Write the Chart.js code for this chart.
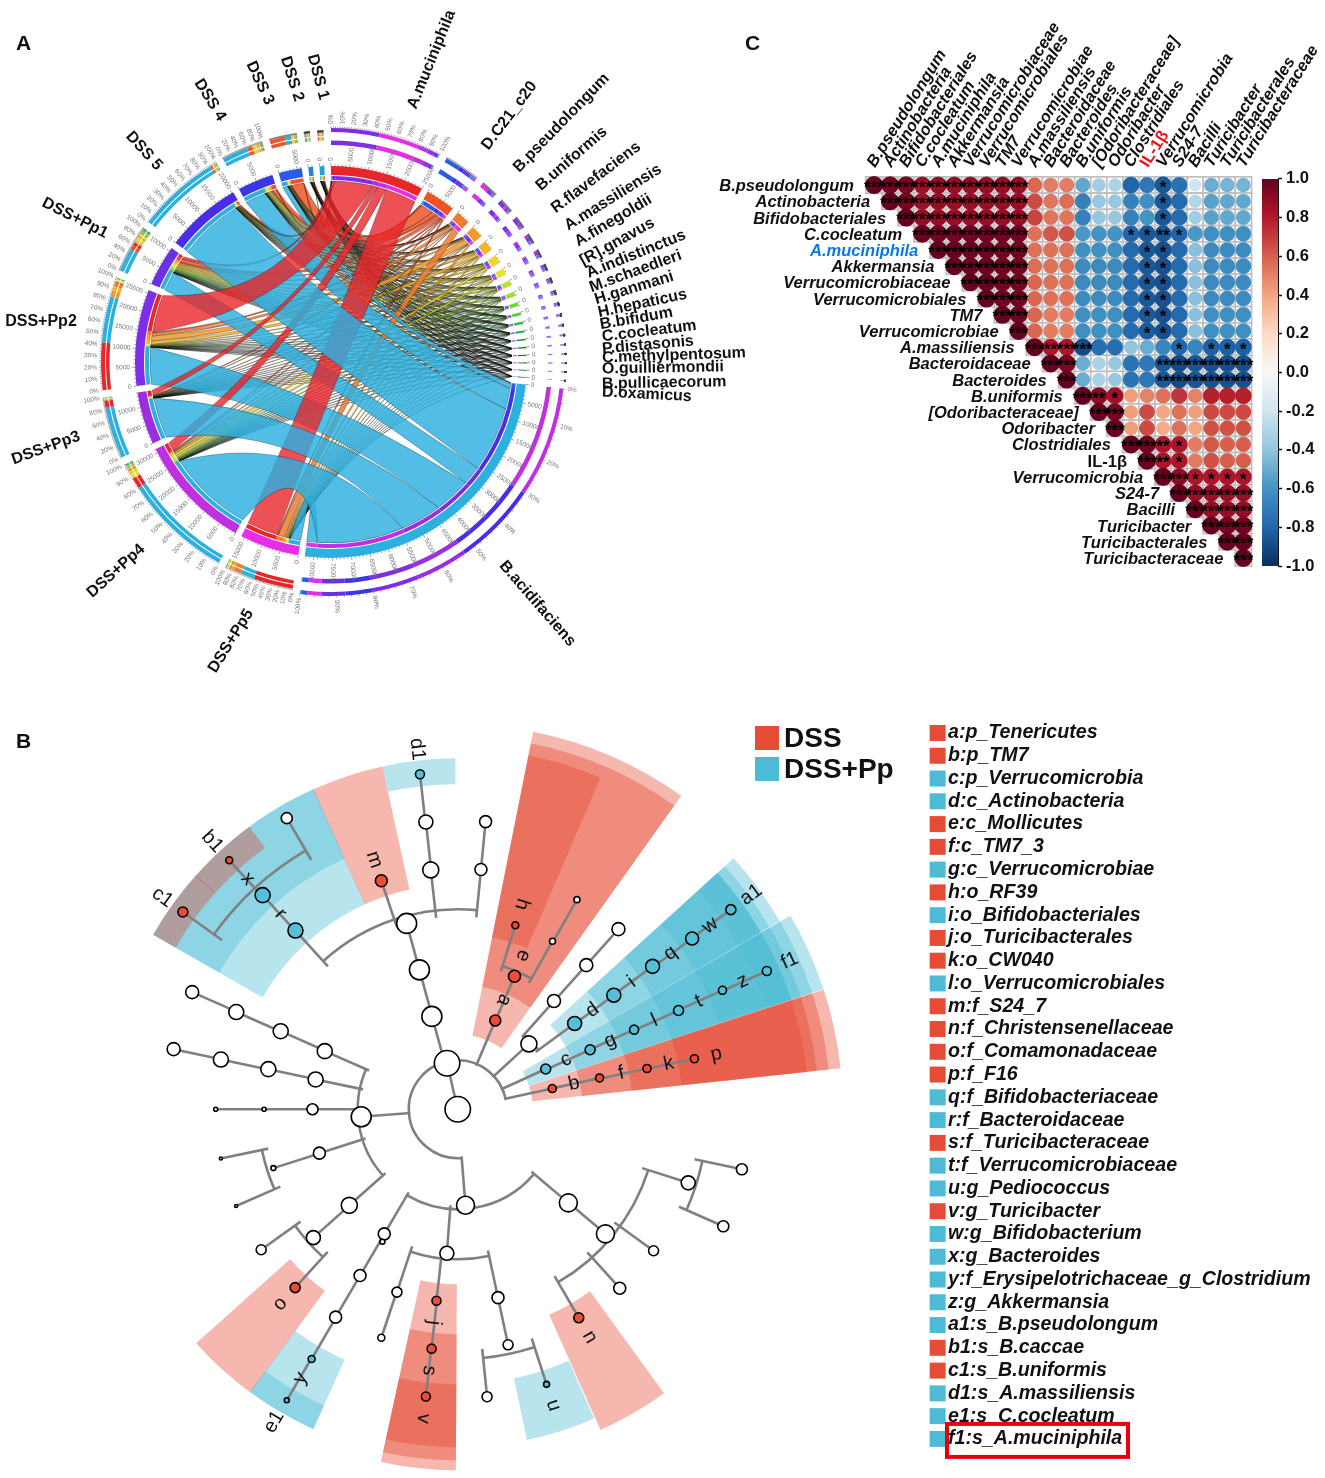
<!DOCTYPE html>
<html>
<head>
<meta charset="utf-8">
<title>Gut microbiota figure</title>
<script src="https://cdn.jsdelivr.net/npm/chart.js@4"></script>
<style>
    body { margin: 0; background: #fff; }
    #fig { position: relative; width: 1325px; height: 1478px; overflow: hidden; }
    #fig canvas { position: absolute; }
    .panel { position: absolute; font: bold 21px "Liberation Sans", sans-serif; color: #111; }
</style>
</head>
<body>
<div id="fig">
    <canvas id="chordChart" width="760" height="690" style="left:0;top:0"></canvas>
    <canvas id="treeChart" width="900" height="778" style="left:0;top:700px"></canvas>
    <canvas id="keyChart" width="405" height="778" style="left:920px;top:700px"></canvas>
    <canvas id="corrChart" width="625" height="600" style="left:700px;top:0"></canvas>
    <canvas id="barChart" width="70" height="415" style="left:1255px;top:165px"></canvas>
    <span class="panel" style="left:16px;top:31px">A</span>
    <span class="panel" style="left:16px;top:729px">B</span>
    <span class="panel" style="left:745px;top:31px">C</span>
</div>
<script>
// ========= Panel A data: reads per species and sample =========
const samples = ["DSS 1", "DSS 2", "DSS 3", "DSS 4", "DSS 5", "DSS+Pp1", "DSS+Pp2", "DSS+Pp3", "DSS+Pp4", "DSS+Pp5"];
const sampleColors = ["#1ea0e8", "#1e80e8", "#2a5ae8", "#3a36e6", "#4a2ee6", "#6a30e6", "#7e2ee6", "#9a2ee0", "#c030e0", "#e62ee6"];

const species = ["A.muciniphila", "D.C21_c20", "B.pseudolongum", "B.uniformis", "R.flavefaciens", "A.massiliensis",
    "A.finegoldii", "[R].gnavus", "A.indistinctus", "M.schaedleri", "H.ganmani", "H.hepaticus", "B.bifidum",
    "C.cocleatum", "P.distasonis", "C.methylpentosum", "O.guilliermondii", "B.pullicaecorum", "D.oxamicus", "B.acidifaciens"];
const speciesColors = ["#e8262a", "#ee5428", "#ef7d2e", "#f09a2c", "#f0b42e", "#f0d232", "#e2e632", "#bfe038", "#9fdc30",
    "#70d630", "#4fcf3c", "#2fbf40", "#20a848", "#1a9048", "#188040", "#157038", "#126030", "#105028", "#0e4020", "#2cb0e0"];

// one row per species, columns in the order of samples
const flows = [
    [50, 50, 100, 100, 100, 800, 10800, 1500, 2500, 9000],
    [300, 300, 3500, 1200, 500, 1000, 400, 200, 300, 300],
    [100, 80, 150, 200, 100, 300, 800, 50, 200, 1800],
    [80, 70, 100, 250, 80, 400, 1500, 100, 200, 500],
    [60, 60, 100, 300, 100, 500, 900, 80, 400, 300],
    [100, 80, 150, 350, 120, 400, 200, 60, 640, 200],
    [80, 60, 120, 250, 100, 300, 150, 50, 500, 190],
    [70, 60, 100, 200, 100, 400, 100, 50, 300, 120],
    [70, 50, 100, 150, 80, 300, 80, 40, 230, 100],
    [60, 50, 80, 130, 70, 260, 60, 30, 190, 70],
    [50, 40, 70, 100, 60, 200, 50, 25, 150, 55],
    [40, 35, 60, 85, 50, 160, 45, 20, 110, 45],
    [35, 25, 45, 65, 40, 120, 35, 15, 85, 35],
    [30, 20, 35, 50, 30, 100, 30, 10, 65, 30],
    [25, 20, 30, 45, 25, 85, 25, 10, 60, 25],
    [20, 15, 25, 40, 25, 75, 20, 8, 52, 20],
    [18, 12, 20, 35, 20, 60, 18, 7, 45, 15],
    [15, 10, 16, 28, 16, 48, 15, 5, 35, 12],
    [10, 8, 12, 20, 12, 38, 10, 4, 26, 10],
    [100, 200, 1400, 6000, 18800, 5400, 10600, 11800, 25000, 3100]
];

// ========= Panel B data: LEfSe cladogram =========
const treeParent = [-1, 0, 1, 2, 3, 3, 5, 1, 7, 8, 9, 7, 11, 12, 13, 14, 1, 16, 17, 18, 19, 20, 1, 22, 23, 24,
    1, 26, 27, 28, 29, 30, 30, 30, 28, 28, 35, 36, 28, 38,
    1, 40, 41, 42, 43, 40, 45, 46, 47, 40, 49, 50, 40, 52, 53, 53, 40, 56, 57, 57,
    1, 60, 61, 62, 63, 63, 62, 62, 62, 60, 69, 70, 71, 69, 73, 69, 75, 76, 76, 60, 79, 80, 81, 82, 79];
const treeAngle = [0, 347, 22.8, 23, 17.3, 29.3, 29.5, 47.3, 41.5, 41.6, 41.6, 53.6, 53.7, 53.6, 53.8, 53.7, 65.3, 65.7, 65.6, 65.8, 65.7, 65.8, 77.6, 77.5, 77.8, 77.9,
    344.5, 344.7, 344.7, 317.9, 317.8, 305.8, 317.6, 329.7, 341.6, 353.6, 353.7, 353.6, 5.5, 5.5,
    265.5, 293.7, 293.9, 293.8, 293.9, 281.9, 282, 281.9, 282, 270, 270, 270, 252.3, 252.2, 258.2, 246.3, 228.3, 228.2, 234.3, 222.2,
    175.4, 130.4, 130.3, 107.8, 102, 113.9, 126, 138, 150, 184.3, 186.3, 186.2, 186.3, 198.3, 198.4, 168, 168, 174.2, 162.2, 210.4, 210.3, 210.3, 210.2, 210.3, 209.5];
const treeLevel = [0, 0.98, 2, 3, 4, 4, 5, 2, 3, 4, 5, 3, 4, 5, 6, 7, 2, 3, 4, 5, 6, 7, 2, 3, 4, 5,
    2, 3, 4, 5, 6, 7, 7, 7, 5, 5, 6, 7, 5, 6,
    2, 3, 4, 5, 6, 3, 4, 5, 6, 3, 4, 5, 3, 4, 5, 5, 3, 4, 5, 5,
    2, 3, 4, 5, 6, 6, 5, 5, 5, 3, 4, 5, 6, 4, 5, 4, 5, 6, 6, 3, 4, 5, 6, 7, 3.16];
const treeSize = [12.7, 12.7, 5.5, 6, 3.5, 3, 3, 8, 6.5, 6.5, 6.5, 7, 7, 7, 6.5, 5, 5, 5, 4.5, 5, 4, 4.5, 4, 4, 4, 4,
    10, 10, 10, 7.5, 7.5, 5, 3.5, 5.5, 6, 8, 7, 4.5, 6, 6,
    10, 7.5, 7.5, 7.5, 6.5, 7.5, 7.5, 7.5, 6.5, 5.5, 2, 2, 6, 2.5, 1.5, 1.5, 8, 7, 5, 5,
    9, 9, 9, 7, 5.5, 5.5, 5, 6, 5, 7, 4.5, 4.5, 4.5, 5, 3.5, 6, 5, 5, 3, 6, 6, 6, 3.5, 2.5, 2.5];
// biomarker nodes: node index, letter, enriched group
const markerNode = [2, 3, 4, 11, 12, 13, 14, 15, 16, 17, 18, 19, 20, 21, 22, 23, 24, 25, 29, 30, 31, 32, 34, 37, 59, 68, 70, 71, 72, 78, 82, 83];
const markerTag = ["a", "e", "h", "d", "i", "q", "w", "a1", "c", "g", "l", "t", "z", "f1", "b", "f", "k", "p", "r", "x", "c1", "b1", "m", "d1", "o", "n", "j", "s", "v", "u", "y", "e1"];
const markerGroup = [0, 0, 0, 1, 1, 1, 1, 1, 1, 1, 1, 1, 1, 1, 0, 0, 0, 0, 1, 1, 0, 0, 0, 1, 0, 0, 0, 0, 0, 1, 1, 1];
const groupNames = ["DSS", "DSS+Pp"];
const groupColors = ["#e64b35", "#4dbbd5"];
const nodeColors = ["#ee4c32", "#55bfda"];

const keyLabels = ["a:p_Tenericutes", "b:p_TM7", "c:p_Verrucomicrobia", "d:c_Actinobacteria", "e:c_Mollicutes", "f:c_TM7_3",
    "g:c_Verrucomicrobiae", "h:o_RF39", "i:o_Bifidobacteriales", "j:o_Turicibacterales", "k:o_CW040", "l:o_Verrucomicrobiales",
    "m:f_S24_7", "n:f_Christensenellaceae", "o:f_Comamonadaceae", "p:f_F16", "q:f_Bifidobacteriaceae", "r:f_Bacteroidaceae",
    "s:f_Turicibacteraceae", "t:f_Verrucomicrobiaceae", "u:g_Pediococcus", "v:g_Turicibacter", "w:g_Bifidobacterium", "x:g_Bacteroides",
    "y:f_Erysipelotrichaceae_g_Clostridium", "z:g_Akkermansia", "a1:s_B.pseudolongum", "b1:s_B.caccae", "c1:s_B.uniformis",
    "d1:s_A.massiliensis", "e1:s_C.cocleatum", "f1:s_A.muciniphila"];
const keyGroup = [0, 0, 1, 1, 0, 0, 1, 0, 1, 0, 0, 1, 0, 0, 0, 0, 1, 1, 0, 1, 1, 0, 1, 1, 1, 1, 1, 0, 0, 1, 1, 1];

// ========= Panel C data: correlation matrix (upper triangle, row by row) =========
const corrLabels = ["B.pseudolongum", "Actinobacteria", "Bifidobacteriales", "C.cocleatum", "A.muciniphila", "Akkermansia",
    "Verrucomicrobiaceae", "Verrucomicrobiales", "TM7", "Verrucomicrobiae", "A.massiliensis", "Bacteroidaceae", "Bacteroides",
    "B.uniformis", "[Odoribacteraceae]", "Odoribacter", "Clostridiales", "IL-1β", "Verrucomicrobia", "S24-7", "Bacilli",
    "Turicibacter", "Turicibacterales", "Turicibacteraceae"];
const corrValues = [
    [1, .96, .95, .86, .88, .88, .88, .88, .88, .88, .58, .52, .52, -.52, -.35, -.32, -.8, -.72, -.85, -.75, -.2, -.5, -.47, -.47],
    [1, .96, .86, .88, .88, .88, .88, .88, .88, .66, .54, .56, -.68, -.38, -.38, -.68, -.62, -.85, -.78, -.3, -.55, -.52, -.52],
    [1, .88, .88, .88, .88, .88, .88, .88, .68, .54, .54, -.68, -.38, -.38, -.68, -.6, -.85, -.78, -.35, -.55, -.52, -.52],
    [1, .97, .97, .97, .97, .97, .97, .55, .62, .64, -.58, -.6, -.6, -.8, -.85, -.85, -.8, -.58, -.62, -.62, -.62],
    [1, .99, .98, .98, .97, .97, .55, .55, .55, -.62, -.62, -.62, -.78, -.85, -.88, -.78, -.42, -.64, -.64, -.64],
    [1, .98, .98, .97, .97, .56, .55, .55, -.64, -.64, -.64, -.78, -.85, -.88, -.78, -.42, -.64, -.64, -.64],
    [1, .99, .97, .97, .58, .55, .55, -.64, -.64, -.64, -.78, -.85, -.88, -.78, -.42, -.64, -.64, -.64],
    [1, .97, .97, .58, .55, .55, -.64, -.64, -.64, -.78, -.85, -.88, -.78, -.42, -.64, -.64, -.64],
    [1, .98, .58, .52, .52, -.62, -.62, -.62, -.78, -.84, -.88, -.78, -.42, -.62, -.62, -.62],
    [1, .58, .52, .52, -.62, -.62, -.62, -.78, -.84, -.88, -.78, -.42, -.62, -.62, -.62],
    [1, .82, .82, -.9, -.76, -.76, -.4, -.5, -.66, -.8, -.66, -.82, -.82, -.82],
    [1, .95, -.5, -.32, -.38, -.74, -.72, -.85, -.9, -.86, -.88, -.88, -.88],
    [1, -.5, -.32, -.38, -.74, -.72, -.85, -.9, -.86, -.88, -.88, -.88],
    [1, .9, .85, .42, .5, .55, .72, .5, .78, .78, .78],
    [1, .95, .42, .66, .4, .55, .42, .66, .66, .66],
    [1, .42, .66, .38, .55, .4, .64, .64, .64],
    [1, .97, .82, .82, .52, .62, .6, .6],
    [1, .82, .82, .52, .64, .6, .6],
    [1, .9, .82, .82, .82, .82],
    [1, .87, .87, .87, .87],
    [1, .88, .88, .88],
    [1, .97, .97],
    [1, 1],
    [1]
];
// number of asterisks per cell, same layout as corrValues
const corrStars = [
    "333333333300000000100000", "33333333300000000100000", "3333333300000000100000", "333333300000011210000",
    "33333300000001100000", "3333300000001100000", "333300000001100000", "33300000001100000", "3300000001100000", "300000001100000",
    "32330000010111", "3300000233333", "300000233333", "32100000000", "3300000000", "300000000",
    "33210000", "3210000", "331111", "33333", "3333", "333", "33", "3"
];
const colorStops = [[-1, "#053061"], [-.8, "#2166ac"], [-.6, "#4393c3"], [-.4, "#92c5de"], [-.2, "#d1e5f0"], [0, "#f7f7f7"],
    [.2, "#fddbc7"], [.4, "#f4a582"], [.6, "#d6604d"], [.8, "#b2182b"], [1, "#67001f"]];

// ======= Shared =======
Chart.defaults.font.family = '"Liberation Sans", Arial, sans-serif';
Chart.defaults.animation = false;
Chart.defaults.responsive = false;
Chart.defaults.events = [];
Chart.defaults.plugins.legend.display = false;
Chart.defaults.plugins.tooltip.enabled = false;

// ========= Panel A: circular flow chart =========
const SECTOR_GAP = 1740;
const nSpecies = species.length;
const nSamples = samples.length;
const sumOf = (arr) => arr.reduce((a, b) => a + b, 0);

// clockwise: species first, then samples from DSS+Pp5 back to DSS 1
const sectors = [];
species.forEach((name, i) => {
    const parts = flows[i].map((v, j) => ({ value: v, species: i, sample: j, color: sampleColors[j] }));
    sectors.push({ name, color: speciesColors[i], parts, isSpecies: true });
});
for (let j = nSamples - 1; j >= 0; j--) {
    const parts = [];
    for (let i = nSpecies - 1; i >= 0; i--) {
        parts.push({ value: flows[i][j], species: i, sample: j, color: speciesColors[i] });
    }
    sectors.push({ name: samples[j], color: sampleColors[j], parts, isSpecies: false });
}
sectors.forEach((s) => { s.total = sumOf(s.parts.map((p) => p.value)); });

// one doughnut ring, gap slices are transparent
function buildRing(weight, pick) {
    const data = [];
    const colors = [];
    sectors.forEach((s) => {
        pick(s).forEach((seg) => {
            data.push(seg.value);
            colors.push(seg.color);
        });
        data.push(SECTOR_GAP);
        colors.push("transparent");
    });
    return { data, backgroundColor: colors, borderWidth: 0, weight };
}
const blank = (s) => [{ value: s.total, color: "transparent" }];
const sortedShare = (s) => s.parts.slice().sort((a, b) => b.value - a.value);
const shareIf = (wantSpecies) => (s) => (s.isSpecies === wantSpecies ? sortedShare(s) : blank(s));

const chordRings = [
    buildRing(4, shareIf(true)),
    buildRing(4, shareIf(false)),
    buildRing(1, blank),
    buildRing(3.5, shareIf(false)),
    buildRing(4.5, shareIf(true)),
    buildRing(21, blank),
    buildRing(9, (s) => [{ value: s.total, color: s.color }]),
    buildRing(1, blank),
    buildRing(4, (s) => s.parts)
];
const MAIN_RING = 6;
const STRIPE_RING = 8;
const RIBBON_RADIUS = 181;

// text written along the radius
function radialText(ctx, text, cx, cy, angle, r) {
    ctx.save();
    ctx.translate(cx + r * Math.cos(angle), cy + r * Math.sin(angle));
    if (Math.cos(angle) >= 0) {
        ctx.rotate(angle);
        ctx.textAlign = "left";
    } else {
        ctx.rotate(angle + Math.PI);
        ctx.textAlign = "right";
    }
    ctx.textBaseline = "middle";
    ctx.fillText(text, 0, 0);
    ctx.restore();
}

const ribbonPlugin = {
    id: "ribbons",
    beforeDatasetsDraw(chart) {
        const ctx = chart.ctx;
        const arcs = chart.getDatasetMeta(STRIPE_RING).data;
        // element index of every species/sample pair in the stripe ring
        const ends = {};
        let idx = 0;
        sectors.forEach((s) => {
            s.parts.forEach((p) => {
                const key = p.species + "_" + p.sample;
                (ends[key] = ends[key] || []).push(arcs[idx]);
                idx++;
            });
            idx++;
        });
        const cx = arcs[0].x;
        const cy = arcs[0].y;
        const r = RIBBON_RADIUS;

        function ribbon(i, j, alpha) {
            const [a, b] = ends[i + "_" + j];
            const col = Chart.helpers.color(speciesColors[i]).alpha(alpha).rgbString();
            const px = (t) => cx + r * Math.cos(t);
            const py = (t) => cy + r * Math.sin(t);
            const ctrl = (t0, t1) => [((px(t0) + px(t1)) / 2 + cx) / 2, ((py(t0) + py(t1)) / 2 + cy) / 2];
            const c1 = ctrl(a.endAngle, b.startAngle);
            const c2 = ctrl(b.endAngle, a.startAngle);
            ctx.beginPath();
            ctx.arc(cx, cy, r, a.startAngle, a.endAngle);
            ctx.quadraticCurveTo(c1[0], c1[1], px(b.startAngle), py(b.startAngle));
            ctx.arc(cx, cy, r, b.startAngle, b.endAngle);
            ctx.quadraticCurveTo(c2[0], c2[1], px(a.startAngle), py(a.startAngle));
            ctx.closePath();
            ctx.fillStyle = col;
            ctx.fill();
            ctx.strokeStyle = "rgba(0,0,0,0.55)";
            ctx.lineWidth = 0.5;
            ctx.stroke();
        }

        const BLUE = nSpecies - 1;
        const RED = 0;
        for (let i = BLUE - 1; i > RED; i--) {
            for (let j = 0; j < nSamples; j++) ribbon(i, j, 0.85);
        }
        // crossings of the big bands stack in this order in the picture (sample indexes)
        [0, 1, 2, 3, 5, 6, 9].forEach((j) => ribbon(BLUE, j, 0.82));
        [0, 1, 2, 3, 4, 5, 8, 9].forEach((j) => ribbon(RED, j, 0.8));
        [4, 7, 8].forEach((j) => ribbon(BLUE, j, 0.82));
        [6, 7].forEach((j) => ribbon(RED, j, 0.8));
    },
    afterDatasetsDraw(chart) {
        const ctx = chart.ctx;
        const arcs = chart.getDatasetMeta(MAIN_RING).data;
        const cx = arcs[0].x;
        const cy = arcs[0].y;
        ctx.save();
        sectors.forEach((s, k) => {
            const el = arcs[k * 2];
            const span = el.endAngle - el.startAngle;
            // value ticks on the main ring
            ctx.strokeStyle = "#444";
            ctx.lineWidth = 0.5;
            ctx.fillStyle = "#777";
            ctx.font = "6.5px " + Chart.defaults.font.family;
            for (let v = 0; v <= s.total; v += 1000) {
                const a = el.startAngle + span * v / s.total;
                const major = v % 5000 === 0;
                ctx.beginPath();
                ctx.moveTo(cx + 196 * Math.cos(a), cy + 196 * Math.sin(a));
                ctx.lineTo(cx + (major ? 199 : 197.5) * Math.cos(a), cy + (major ? 199 : 197.5) * Math.sin(a));
                ctx.stroke();
                if (major) radialText(ctx, String(v), cx, cy, a, 201);
            }
            // percent ticks on the outer ring, big sectors get labels
            const rim = s.isSpecies ? 234 : 230;
            let labelStep = 0;
            if (span > 0.3) labelStep = 10;
            else if (!s.isSpecies && span > 0.15) labelStep = 20;
            for (let p = 0; p <= 100; p += 2) {
                const a = el.startAngle + span * p / 100;
                ctx.beginPath();
                ctx.moveTo(cx + rim * Math.cos(a), cy + rim * Math.sin(a));
                ctx.lineTo(cx + (rim + 1.6) * Math.cos(a), cy + (rim + 1.6) * Math.sin(a));
                ctx.stroke();
                if (labelStep && p % labelStep === 0) radialText(ctx, p + "%", cx, cy, a, rim + 4);
            }
        });
        ctx.restore();

        // sector names
        ctx.save();
        ctx.fillStyle = "#111";
        ctx.font = "bold 16px " + Chart.defaults.font.family;
        ctx.textBaseline = "middle";
        sectors.forEach((s, k) => {
            const at = sectorLabelAt[k];
            ctx.save();
            ctx.translate(at[0], at[1]);
            ctx.rotate(at[2] * Math.PI / 180);
            ctx.textAlign = s.isSpecies ? "left" : "center";
            ctx.fillText(s.name, 0, 0);
            ctx.restore();
        });
        ctx.restore();
    }
};

// hand placed names: x, y, rotation (species anchored at their start, samples at their middle)
const sectorLabelAt = [
    [412, 108, -68], [485, 148, -53], [516, 170, -46], [538, 188, -41], [553, 210, -37], [566, 227, -32], [576, 243, -31],
    [581, 262, -29], [587, 274, -22], [590, 288, -20], [595, 300, -17], [598, 313, -12], [600, 325, -10], [602, 337, -7],
    [602, 349, -5], [602, 358, -2], [602, 369, -1], [602, 384, -1], [602, 392, 3], [502, 563, 49],
    [231, 641, -58], [116, 571, -42], [46, 448, -20], [41, 322, 0], [75, 218, 27], [144, 151, 48], [210, 100, 58], [260, 83, 65], [292, 79, 72], [318, 77, 75]
];

new Chart(document.getElementById("chordChart"), {
    type: "doughnut",
    data: { datasets: chordRings },
    options: {
        cutout: 182,
        layout: { padding: { left: 97, right: 195, top: 128, bottom: 94 } }
    },
    plugins: [ribbonPlugin]
});

// ========= Panel B: cladogram =========
const LEVEL_PX = 50;
const toRad = (d) => d * Math.PI / 180;
const polar = (angle, r) => ({ x: r * Math.sin(toRad(angle)), y: r * Math.cos(toRad(angle)) });

const treeChildren = treeAngle.map(() => []);
treeParent.forEach((p, i) => { if (p >= 0) treeChildren[p].push(i); });

const nodeFill = treeAngle.map(() => "#fff");
markerNode.forEach((n, k) => { nodeFill[n] = nodeColors[markerGroup[k]]; });

// leaves below a node, angles unwrapped around that node
function leafAngles(n) {
    if (treeChildren[n].length === 0) return [treeAngle[n]];
    let out = [];
    treeChildren[n].forEach((c) => { out = out.concat(leafAngles(c)); });
    return out.map((a) => treeAngle[n] + ((a - treeAngle[n] + 540) % 360 - 180));
}

const treePlugin = {
    id: "treeParts",
    beforeDatasetsDraw(chart) {
        const ctx = chart.ctx;
        const { x: sx, y: sy } = chart.scales;
        const cx = sx.getPixelForValue(0);
        const cy = sy.getPixelForValue(0);
        const arcAngle = (d) => toRad(d - 90);

        // shaded clades, inner levels first
        const order = markerNode.map((n, k) => k).sort((a, b) => treeLevel[markerNode[a]] - treeLevel[markerNode[b]]);
        order.forEach((k) => {
            const n = markerNode[k];
            const level = treeLevel[n];
            const leaves = leafAngles(n);
            const from = Math.min(...leaves) - 6;
            const to = Math.max(...leaves) + 6;
            const inner = level * LEVEL_PX - 25;
            let outer = 351;
            if (level < 5) outer = 385 - 12 * (level - 2);
            if (level === 6 && treeChildren[n].length === 0) outer = 338;
            ctx.beginPath();
            ctx.arc(cx, cy, outer, arcAngle(from), arcAngle(to));
            ctx.arc(cx, cy, inner, arcAngle(to), arcAngle(from), true);
            ctx.closePath();
            ctx.fillStyle = Chart.helpers.color(groupColors[markerGroup[k]]).alpha(0.4).rgbString();
            ctx.fill();
        });

        // branches: radial line from the parent's ring, arc joining the siblings
        ctx.strokeStyle = "#808080";
        ctx.lineWidth = 2.6;
        treeParent.forEach((p, i) => {
            if (p < 0) return;
            const rp = treeLevel[p] * LEVEL_PX;
            const a = polar(treeAngle[i], rp);
            const b = polar(treeAngle[i], treeLevel[i] * LEVEL_PX);
            ctx.beginPath();
            ctx.moveTo(sx.getPixelForValue(a.x), sy.getPixelForValue(a.y));
            ctx.lineTo(sx.getPixelForValue(b.x), sy.getPixelForValue(b.y));
            ctx.stroke();
        });
        treeChildren.forEach((kids, p) => {
            if (kids.length === 0 || p === 0) return;
            const deltas = kids.map((c) => (treeAngle[c] - treeAngle[p] + 540) % 360 - 180);
            ctx.beginPath();
            ctx.arc(cx, cy, treeLevel[p] * LEVEL_PX, arcAngle(treeAngle[p] + Math.min(0, ...deltas)), arcAngle(treeAngle[p] + Math.max(0, ...deltas)));
            ctx.stroke();
        });
    },
    afterDatasetsDraw(chart) {
        const ctx = chart.ctx;
        const { x: sx, y: sy } = chart.scales;
        ctx.save();
        ctx.fillStyle = "#111";
        ctx.font = "20px " + Chart.defaults.font.family;
        ctx.textAlign = "center";
        ctx.textBaseline = "middle";
        markerNode.forEach((n, k) => {
            const tag = markerTag[k];
            const theta = treeAngle[n];
            const p = polar(theta, treeLevel[n] * LEVEL_PX + (tag.length > 1 ? 26 : 23));
            const turned = theta > 40 && theta <= 200;
            ctx.save();
            ctx.translate(sx.getPixelForValue(p.x), sy.getPixelForValue(p.y));
            ctx.rotate(toRad(turned ? theta - 90 : theta + 90));
            ctx.fillText(tag, 0, 0);
            ctx.restore();
        });
        ctx.restore();

        // group legend
        ctx.save();
        ctx.font = "bold 28px " + Chart.defaults.font.family;
        ctx.textAlign = "left";
        ctx.textBaseline = "middle";
        groupNames.forEach((name, i) => {
            const top = 26 + i * 31;
            ctx.fillStyle = groupColors[i];
            ctx.fillRect(755, top, 24, 24);
            ctx.fillStyle = "#111";
            ctx.fillText(name, 784, top + 13);
        });
        ctx.restore();
    }
};

new Chart(document.getElementById("treeChart"), {
    type: "scatter",
    data: {
        datasets: [{
            data: treeAngle.map((a, i) => polar(a, treeLevel[i] * LEVEL_PX)),
            pointRadius: treeSize,
            pointBackgroundColor: nodeFill,
            pointBorderColor: "#000",
            pointBorderWidth: 1.6,
            clip: false
        }]
    },
    options: {
        layout: { padding: 0 },
        scales: {
            x: { type: "linear", display: false, min: -458, max: 442 },
            y: { type: "linear", display: false, min: -368, max: 410 }
        }
    },
    plugins: [treePlugin]
});

// ---- taxa key ----
const keyBoxPlugin = {
    id: "keyBox",
    afterDraw(chart) {
        const ctx = chart.ctx;
        const y = chart.scales.y.getPixelForValue(keyLabels.length - 1);
        ctx.save();
        ctx.strokeStyle = "#e8000d";
        ctx.lineWidth = 4;
        ctx.strokeRect(27, y - 15, 181, 33);
        ctx.restore();
    }
};

new Chart(document.getElementById("keyChart"), {
    type: "scatter",
    data: {
        datasets: [{
            data: keyLabels.map((name) => ({ x: 0, y: name })),
            pointStyle: "rect",
            pointRadius: 11.3,
            pointBorderWidth: 0,
            pointBackgroundColor: keyGroup.map((g) => groupColors[g]),
            clip: false
        }]
    },
    options: {
        layout: { padding: { left: 5, top: 21.6, bottom: 27.7 } },
        scales: {
            x: { type: "linear", display: false, min: -1, max: 1 },
            y: {
                type: "category",
                labels: keyLabels,
                position: "right",
                offset: true,
                grid: { display: false, drawTicks: false },
                border: { display: false },
                afterFit(scale) { scale.width = 381; },
                ticks: {
                    autoSkip: false,
                    padding: 4,
                    color: "#111",
                    font: { size: 19.6, weight: "bold", style: "italic" }
                }
            }
        }
    },
    plugins: [keyBoxPlugin]
});

// ========= Panel C: correlation matrix =========
function corrColor(v) {
    for (let i = 1; i < colorStops.length; i++) {
        if (v <= colorStops[i][0]) {
            const [v0, c0] = colorStops[i - 1];
            const [v1, c1] = colorStops[i];
            const t = (v - v0) / (v1 - v0);
            const a = Chart.helpers.color(c0).rgb;
            const b = Chart.helpers.color(c1).rgb;
            const mix = (p, q) => Math.round(p + (q - p) * t);
            return "rgb(" + mix(a.r, b.r) + "," + mix(a.g, b.g) + "," + mix(a.b, b.b) + ")";
        }
    }
    return colorStops[colorStops.length - 1][1];
}

const corrCells = [];
corrValues.forEach((row, i) => {
    row.forEach((v, k) => {
        corrCells.push({ x: corrLabels[i + k], y: corrLabels[i], v, stars: Number(corrStars[i][k] || 0) });
    });
});

const corrTextPlugin = {
    id: "corrText",
    afterDatasetsDraw(chart) {
        const ctx = chart.ctx;
        const points = chart.getDatasetMeta(0).data;
        ctx.save();
        ctx.fillStyle = "#000";
        ctx.textAlign = "center";
        ctx.textBaseline = "middle";
        ctx.font = "bold 17px " + Chart.defaults.font.family;
        corrCells.forEach((c, i) => {
            if (c.stars > 0) ctx.fillText("*".repeat(c.stars), points[i].x, points[i].y + 3);
        });
        // row names sit just left of the diagonal
        ctx.textAlign = "right";
        corrLabels.forEach((name, i) => {
            const y = chart.scales.y.getPixelForValue(i) + 1.5;
            const x = chart.scales.x.getPixelForValue(i) - 20;
            ctx.font = (name === "IL-1β" ? "" : "italic ") + "bold 16.5px " + Chart.defaults.font.family;
            ctx.fillStyle = name === "A.muciniphila" ? "#0a78e6" : "#111";
            ctx.fillText(name, x, y);
        });
        ctx.restore();
    }
};

new Chart(document.getElementById("corrChart"), {
    type: "scatter",
    data: {
        datasets: [
            {
                // circles first: Chart.js paints the first dataset on top
                data: corrCells,
                pointRadius: corrCells.map((c) => 5.7 + 3.3 * Math.abs(c.v)),
                pointBackgroundColor: corrCells.map((c) => corrColor(c.v)),
                pointBorderWidth: 0,
                clip: false
            },
            {
                data: corrCells,
                pointStyle: "rect",
                pointRadius: 11.5,
                pointBackgroundColor: "#fff",
                pointBorderColor: "#c0c0c0",
                pointBorderWidth: 1.8,
                clip: false
            }
        ]
    },
    options: {
        layout: { padding: { left: 166, right: 68, bottom: 34 } },
        scales: {
            x: {
                type: "category",
                labels: corrLabels,
                position: "top",
                offset: true,
                grid: { display: false, drawTicks: false },
                border: { display: false },
                afterFit(scale) { scale.height = 177; },
                ticks: {
                    autoSkip: false,
                    minRotation: 58,
                    maxRotation: 58,
                    padding: 6,
                    labelOffset: 14,
                    color: (c) => (corrLabels[c.index] === "IL-1β" ? "#e8141c" : "#111"),
                    font: (c) => ({ size: 16.5, weight: "bold", style: corrLabels[c.index] === "IL-1β" ? "normal" : "italic" })
                }
            },
            y: {
                type: "category",
                labels: corrLabels,
                offset: true,
                display: false
            }
        }
    },
    plugins: [corrTextPlugin]
});

// ---- colour bar ----
const barTicks = [-1, -0.8, -0.6, -0.4, -0.2, 0, 0.2, 0.4, 0.6, 0.8, 1];

new Chart(document.getElementById("barChart"), {
    type: "bar",
    data: {
        labels: [""],
        datasets: [{
            data: [[barTicks[0], barTicks[barTicks.length - 1]]],
            barPercentage: 1,
            categoryPercentage: 1,
            borderWidth: 0,
            backgroundColor(c) {
                const area = c.chart.chartArea;
                if (!area) return "#ccc";
                const g = c.chart.ctx.createLinearGradient(0, area.bottom, 0, area.top);
                colorStops.forEach(([v, col]) => g.addColorStop((v + 1) / 2, col));
                return g;
            }
        }]
    },
    options: {
        layout: { padding: { left: 7, top: 12, bottom: 14 } },
        scales: {
            x: { display: false },
            y: {
                position: "right",
                min: -1,
                max: 1,
                afterFit(scale) { scale.width = 47; },
                afterBuildTicks(scale) { scale.ticks = barTicks.map((value) => ({ value })); },
                grid: { drawOnChartArea: false, color: "#111", tickLength: 4, tickWidth: 1.5 },
                border: { color: "#111" },
                ticks: {
                    padding: 4,
                    color: "#111",
                    font: { size: 16.5, weight: "bold" },
                    callback: (v) => Number(v).toFixed(1)
                }
            }
        }
    }
});
</script>
</body>
</html>
